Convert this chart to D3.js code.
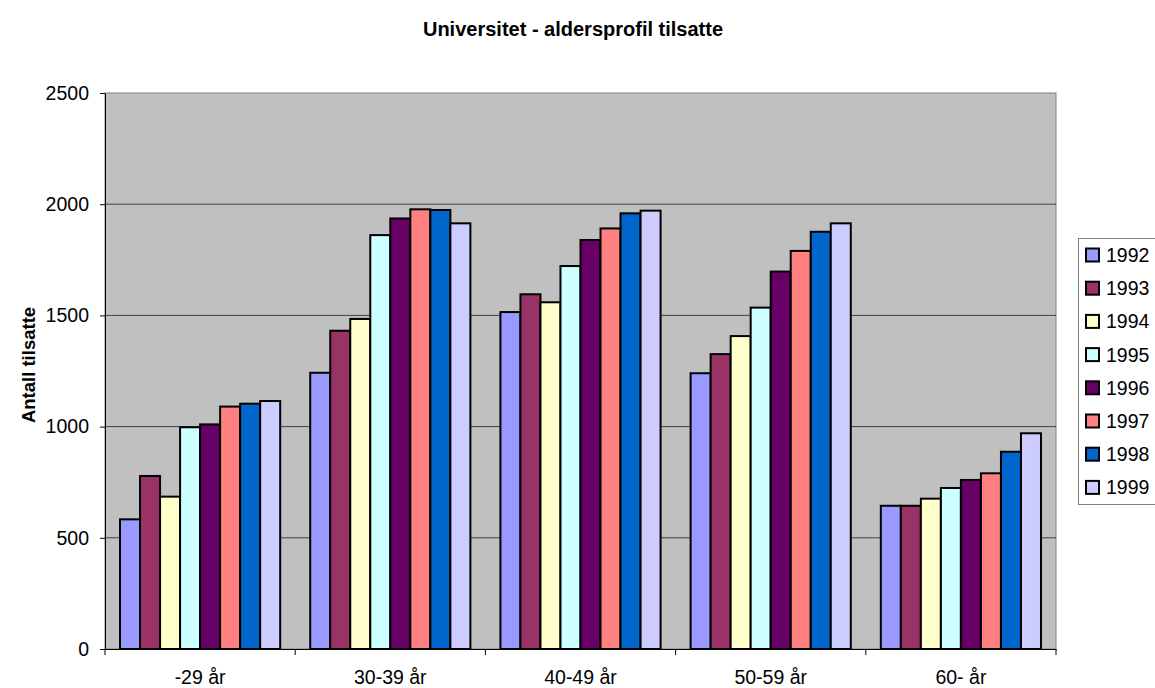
<!DOCTYPE html>
<html>
<head>
<meta charset="utf-8">
<script src="https://cdn.jsdelivr.net/npm/d3@7"></script>
<style>
  body { margin: 0; background: #fff; }
  svg { display: block; font-family: "Liberation Sans", Arial, sans-serif; }
</style>
</head>
<body>
<svg id="chart" width="1155" height="688"></svg>
<script>
const categories = ["-29 år", "30-39 år", "40-49 år", "50-59 år", "60- år"];
const years = ["1992", "1993", "1994", "1995", "1996", "1997", "1998", "1999"];
const values = {
  "1992": [583, 1242, 1515, 1240, 644],
  "1993": [778, 1431, 1595, 1326, 644],
  "1994": [685, 1484, 1559, 1407, 676],
  "1995": [997, 1861, 1722, 1535, 724],
  "1996": [1010, 1936, 1839, 1697, 760],
  "1997": [1090, 1977, 1891, 1790, 790],
  "1998": [1103, 1974, 1959, 1876, 887],
  "1999": [1115, 1914, 1971, 1914, 970]
};
const colors = ["#9999FF", "#993366", "#FFFFCC", "#CCFFFF", "#660066", "#FF8080", "#0066CC", "#CCCCFF"];
const yTicks = [0, 500, 1000, 1500, 2000, 2500];

const svg = d3.select("#chart");
const L = 105, R = 1056, T = 93, B = 649;
const FS = 19.5;

const x0 = d3.scaleBand().domain(categories).range([L, R]).paddingInner(0).paddingOuter(0);
const bw = x0.bandwidth() / (years.length + 1.5);
const x1 = d3.scaleBand().domain(years).range([0, bw * years.length]);
const y = d3.scaleLinear().domain([0, 2500]).range([B, T]);
const color = d3.scaleOrdinal().domain(years).range(colors);

// plot area
svg.append("rect").attr("x", L).attr("y", T).attr("width", R - L).attr("height", B - T)
  .attr("fill", "#C0C0C0").attr("stroke", "#808080").attr("stroke-width", 1);

// gridlines
svg.append("g").selectAll("line").data(yTicks.filter(d => d > 0 && d < 2500)).join("line")
  .attr("x1", L).attr("x2", R).attr("y1", d => y(d)).attr("y2", d => y(d))
  .attr("stroke", "#404040").attr("stroke-width", 1);

// bars
const groups = svg.append("g").selectAll("g").data(categories).join("g")
  .attr("transform", d => `translate(${x0(d) + bw * 0.75},0)`);
groups.selectAll("rect").data((c, i) => years.map(yr => ({ yr, v: values[yr][i] }))).join("rect")
  .attr("x", d => x1(d.yr))
  .attr("y", d => y(d.v))
  .attr("width", x1.bandwidth())
  .attr("height", d => y(0) - y(d.v))
  .attr("fill", d => color(d.yr))
  .attr("stroke", "#000").attr("stroke-width", 2);

// axes
const yAxis = d3.axisLeft(y).tickValues(yTicks).tickFormat(d3.format("d")).tickSize(5).tickPadding(11).tickSizeOuter(0);
const gy = svg.append("g").attr("transform", `translate(${L},0)`).call(yAxis);
gy.select(".domain").attr("stroke", "#000");
gy.selectAll("text").attr("font-size", FS).attr("fill", "#000").attr("font-family", "Liberation Sans, Arial, sans-serif");

const xAxis = d3.axisBottom(x0).tickSize(0).tickPadding(21);
const gx = svg.append("g").attr("transform", `translate(0,${B})`).call(xAxis);
gx.select(".domain").attr("stroke", "#000");
gx.selectAll("text").attr("font-size", FS).attr("fill", "#000").attr("font-family", "Liberation Sans, Arial, sans-serif");
// category boundary ticks
svg.append("g").selectAll("line").data(d3.range(categories.length + 1)).join("line")
  .attr("x1", i => L + i * x0.bandwidth()).attr("x2", i => L + i * x0.bandwidth())
  .attr("y1", B).attr("y2", B + 6).attr("stroke", "#000");

// title
svg.append("text").attr("x", 573).attr("y", 36).attr("text-anchor", "middle")
  .attr("font-size", 20).attr("font-weight", "bold").text("Universitet - aldersprofil tilsatte");

// y axis title
svg.append("text").attr("transform", `translate(35,${365}) rotate(-90)`)
  .attr("text-anchor", "middle").attr("font-size", 18.5).attr("font-weight", "bold").text("Antall tilsatte");

// legend
const lg = svg.append("g");
lg.append("rect").attr("x", 1078.5).attr("y", 238.5).attr("width", 90).attr("height", 266)
  .attr("fill", "#fff").attr("stroke", "#808080");
const items = lg.selectAll("g").data(years).join("g")
  .attr("transform", (d, i) => `translate(1086,${255 + i * 33.2})`);
items.append("rect").attr("x", 0).attr("y", -6.5).attr("width", 13).attr("height", 13)
  .attr("fill", d => color(d)).attr("stroke", "#000").attr("stroke-width", 2);
items.append("text").attr("x", 20).attr("y", 7).attr("font-size", FS).text(d => d);
</script>
</body>
</html>
